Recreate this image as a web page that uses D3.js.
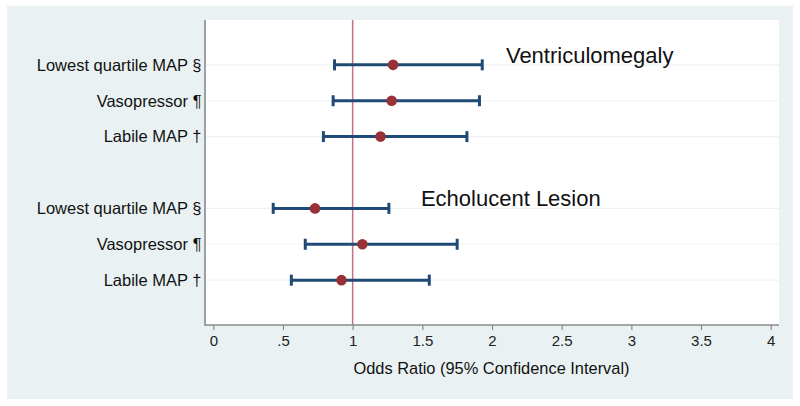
<!DOCTYPE html>
<html><head><meta charset="utf-8">
<script src="https://cdn.jsdelivr.net/npm/d3@7"></script>
<style>body{margin:0;background:#fff;}svg{display:block;font-family:Arial,"Liberation Sans",sans-serif;}</style>
</head><body><svg id="c" width="800" height="406"></svg>
<script>
const rowIndex = [0,1,2,4,5,6];
const rowLabels = ["Lowest quartile MAP §","Vasopressor ¶","Labile MAP †","Lowest quartile MAP §","Vasopressor ¶","Labile MAP †"];
const oddsRatio = [1.29,1.28,1.20,0.73,1.07,0.92];
const ciLow = [0.87,0.86,0.79,0.43,0.66,0.56];
const ciHigh = [1.93,1.91,1.82,1.26,1.75,1.55];
const xTicks = [0,0.5,1,1.5,2,2.5,3,3.5,4];
const xTickLabels = ["0",".5","1","1.5","2","2.5","3","3.5","4"];
const groupTitles = ["Ventriculomegaly","Echolucent Lesion"];
const groupTitleX = [2.1,1.49];
const groupTitleRow = [0,4];

const svg = d3.select("#c");
svg.append("rect").attr("x",7).attr("y",6).attr("width",786).attr("height",393).attr("fill","#eaf1f3");
const L=205,R=779,T=20,B=325;
svg.append("rect").attr("x",L).attr("y",T).attr("width",R-L).attr("height",B-T).attr("fill","#fff");

const x = d3.scaleLinear().domain([0,4]).range([213.3,770.7]);
const y = d3.scaleLinear().domain([-1.25,7.25]).range([T,B]);

// gridlines
const g = svg.append("g");
rowIndex.forEach(i=>{
  g.append("line").attr("x1",L).attr("x2",R).attr("y1",y(i)).attr("y2",y(i)).attr("stroke","#ecf3f5").attr("stroke-width",1.2);
});

// reference line
svg.append("line").attr("x1",x(1)).attr("x2",x(1)).attr("y1",T).attr("y2",B).attr("stroke","#c7707e").attr("stroke-width",1.5);

// x axis
const ax = svg.append("g").attr("transform",`translate(0,${B})`)
  .call(d3.axisBottom(x).tickValues(xTicks).tickFormat((d,i)=>xTickLabels[i]).tickSize(5).tickPadding(5));
ax.select(".domain").remove();
ax.selectAll(".tick line").attr("stroke","#8a8a8a").attr("stroke-width",1.2);
ax.selectAll(".tick text").attr("font-size",15).attr("fill","#222").attr("font-family","Arial,'Liberation Sans',sans-serif");
svg.append("line").attr("x1",L).attr("x2",R).attr("y1",B).attr("y2",B).attr("stroke","#8a8a8a").attr("stroke-width",1.6);
svg.append("line").attr("x1",L).attr("x2",L).attr("y1",T).attr("y2",B+0.8).attr("stroke","#8a8a8a").attr("stroke-width",1.6);

// y labels
rowIndex.forEach((r,k)=>{
  svg.append("text").attr("x",201.5).attr("y",y(r)).attr("dy","0.35em").attr("text-anchor","end")
    .attr("font-size",16.5).attr("fill","#111").text(rowLabels[k]);
});

// CI bars
const cap=5.5;
rowIndex.forEach((r,k)=>{
  const yy=y(r);
  svg.append("line").attr("x1",x(ciLow[k])).attr("x2",x(ciHigh[k])).attr("y1",yy).attr("y2",yy).attr("stroke","#1e4a75").attr("stroke-width",3);
  [ciLow[k],ciHigh[k]].forEach(v=>{
    svg.append("line").attr("x1",x(v)).attr("x2",x(v)).attr("y1",yy-cap).attr("y2",yy+cap).attr("stroke","#1e4a75").attr("stroke-width",3);
  });
  svg.append("circle").attr("cx",x(oddsRatio[k])).attr("cy",yy).attr("r",5.3).attr("fill","#983238");
});

// group titles
groupTitles.forEach((t,i)=>{
  svg.append("text").attr("x",x(groupTitleX[i])).attr("y",y(groupTitleRow[i])-2).attr("font-size",22).attr("fill","#111").text(t);
});

// axis title
svg.append("text").attr("x",491.5).attr("y",374).attr("text-anchor","middle").attr("font-size",16.4).attr("fill","#111").text("Odds Ratio (95% Confidence Interval)");
</script></body></html>
